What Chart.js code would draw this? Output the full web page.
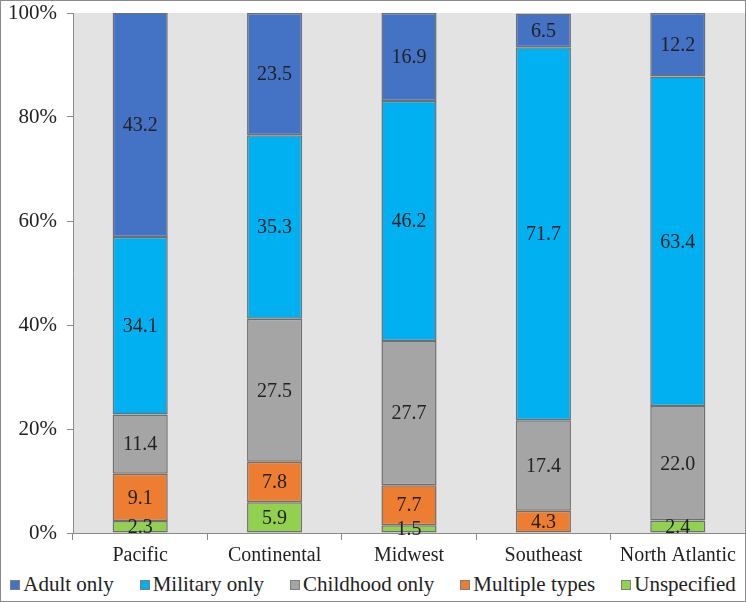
<!DOCTYPE html>
<html>
<head>
<meta charset="utf-8">
<script src="https://cdn.jsdelivr.net/npm/chart.js@4/dist/chart.umd.min.js"></script>
<style>
  html, body { margin: 0; padding: 0; background: #fff; }
  #wrap { width: 744px; height: 600px; border: 1px solid #8a8a8a; position: relative; overflow: hidden; }
  #box { width: 744px; height: 569px; position: relative; }
  #legend { position: absolute; left: 0; right: 0; top: 570px; display: flex; justify-content: center;
            font-family: "Liberation Serif", "Times New Roman", serif; font-size: 21px; color: #222; line-height: 26px; }
  #legend span.item { display: inline-flex; align-items: center; margin: 0 13px; white-space: nowrap; }
  #legend span.sw { display: inline-block; width: 8px; height: 8px; border: 1px solid #7f7f7f; margin-right: 3px; margin-top: 2px; }
</style>
</head>
<body>
<div id="wrap">
  <div id="box"><canvas id="chart"></canvas></div>
  <div id="legend"></div>
</div>
<script>
'use strict';

let regions = ['Pacific', 'Continental', 'Midwest', 'Southeast', 'North Atlantic'];
let unspecified = [2.3, 5.9, 1.5, 0, 2.4];
let multipleTypes = [9.1, 7.8, 7.7, 4.3, 0];
let childhoodOnly = [11.4, 27.5, 27.7, 17.4, 22.0];
let militaryOnly = [34.1, 35.3, 46.2, 71.7, 63.4];
let adultOnly = [43.2, 23.5, 16.9, 6.5, 12.2];

let serif = '"Liberation Serif", "Times New Roman", serif';

let plotBackground = {
  id: 'plotBackground',
  beforeDraw(chart) {
    let a = chart.chartArea;
    let ctx = chart.ctx;
    ctx.save();
    ctx.fillStyle = '#e3e3e3';
    ctx.fillRect(a.left, a.top, a.right - a.left, a.bottom - a.top);
    ctx.restore();
  }
};

let segmentLabels = {
  id: 'segmentLabels',
  afterDatasetsDraw(chart) {
    let ctx = chart.ctx;
    ctx.save();
    ctx.font = '20px ' + serif;
    ctx.fillStyle = '#222';
    ctx.textAlign = 'center';
    ctx.textBaseline = 'middle';
    chart.data.datasets.forEach((ds, i) => {
      chart.getDatasetMeta(i).data.forEach((bar, j) => {
        let v = ds.data[j];
        if (!v) return;
        let p = bar.getProps(['x', 'y', 'base'], true);
        let top = Math.max(p.y, chart.chartArea.top);
        ctx.fillText(v.toFixed(1), p.x, (top + p.base) / 2 + 1);
      });
    });
    ctx.restore();
  }
};

// legend drawn as html under the canvas, built from the chart's datasets
let htmlLegend = {
  id: 'htmlLegend',
  afterUpdate(chart) {
    let el = document.getElementById('legend');
    el.innerHTML = '';
    chart.data.datasets.slice().reverse().forEach(ds => {
      let item = document.createElement('span');
      item.className = 'item';
      let sw = document.createElement('span');
      sw.className = 'sw';
      sw.style.background = ds.backgroundColor;
      item.appendChild(sw);
      item.appendChild(document.createTextNode(ds.label));
      el.appendChild(item);
    });
  }
};

function series(label, data, color) {
  return {
    label: label,
    data: data,
    backgroundColor: color,
    borderColor: '#6f6f6f',
    borderWidth: 1.5,
    borderSkipped: false,
    barPercentage: 0.41,
    categoryPercentage: 1
  };
}

function renderChart() {
  new Chart(document.getElementById('chart'), {
    type: 'bar',
    data: {
      labels: regions,
      datasets: [
        series('Unspecified', unspecified, '#92d050'),
        series('Multiple types', multipleTypes, '#ed7d31'),
        series('Childhood only', childhoodOnly, '#a5a5a5'),
        series('Military only', militaryOnly, '#00b0f0'),
        series('Adult only', adultOnly, '#4472c4')
      ]
    },
    options: {
      responsive: true,
      maintainAspectRatio: false,
      animation: false,
      layout: { padding: { top: 12, right: 0, left: 0, bottom: 0 } },
      plugins: {
        tooltip: { enabled: false },
        legend: { display: false }
      },
      scales: {
        x: {
          stacked: true,
          grid: {
            offset: true,
            drawOnChartArea: false,
            color: '#8a8a8a',
            tickLength: 7
          },
          border: { color: '#8a8a8a' },
          ticks: { font: { family: serif, size: 20 }, color: '#222', padding: 4 },
          afterFit(scale) { scale.height = 37; }
        },
        y: {
          stacked: true,
          min: 0,
          max: 100,
          grid: { drawOnChartArea: false, color: '#8a8a8a', tickLength: 6 },
          border: { color: '#8a8a8a' },
          ticks: {
            stepSize: 20,
            font: { family: serif, size: 21 },
            color: '#222',
            padding: 10,
            callback: v => v + '%'
          },
          afterFit(scale) {
            scale.width = 72;
            scale.paddingTop = 0;
            scale.paddingBottom = 0;
          }
        }
      }
    },
    plugins: [plotBackground, segmentLabels, htmlLegend]
  });
}

document.fonts.load('20px "Liberation Serif"').then(renderChart, renderChart);
</script>
</body>
</html>
